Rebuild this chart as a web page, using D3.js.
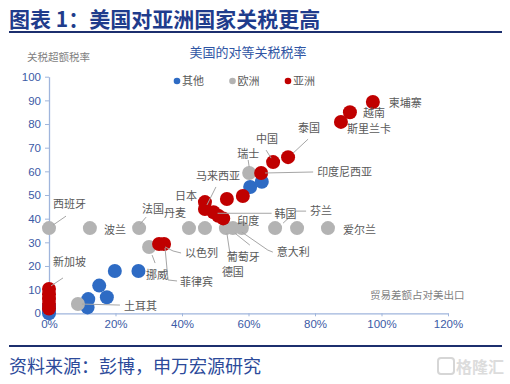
<!DOCTYPE html>
<html>
<head>
<meta charset="utf-8">
<script src="https://cdn.jsdelivr.net/npm/d3@7"></script>
<style>
  body { margin: 0; background: #fff; }
  svg { display: block; }
</style>
</head>
<body>
<svg id="chart" width="510" height="384"></svg>
<script>
// series names and colours
const seriesNames = ['其他', '欧洲', '亚洲']
const seriesColors = ['#2e6bc4', '#b3b3b3', '#c00000']

// x: 贸易差额占对美出口 (%), y: 关税超额税率
const otherPts = [
  {name: '', x: 60.5, y: 53.4}, {name: '', x: 64.0, y: 55.6},
  {name: '', x: 19.8, y: 17.9}, {name: '', x: 26.9, y: 17.9},
  {name: '', x: 15.1, y: 11.7}, {name: '', x: 17.4, y: 6.8},
  {name: '', x: 11.8, y: 6.0}, {name: '', x: 11.6, y: 2.5},
  {name: '', x: 0, y: 0}, {name: '', x: 0, y: 1.5}, {name: '', x: 0, y: 3}
]
const europePts = [
  {name: '瑞士', x: 60.2, y: 59.3}, {name: '挪威', x: 30.1, y: 28.0},
  {name: '土耳其', x: 8.7, y: 3.9}, {name: '西班牙', x: 0, y: 36},
  {name: '波兰', x: 12.3, y: 36}, {name: '法国', x: 27.1, y: 36},
  {name: '丹麦', x: 42.1, y: 36}, {name: '', x: 46.9, y: 36},
  {name: '德国', x: 53.2, y: 36}, {name: '葡萄牙', x: 55.3, y: 36},
  {name: '意大利', x: 58.0, y: 36}, {name: '芬兰', x: 68.0, y: 36},
  {name: '', x: 74.6, y: 36}, {name: '爱尔兰', x: 83.9, y: 36}
]
const asiaPts = [
  {name: '柬埔寨', x: 97.4, y: 89.3}, {name: '越南', x: 90.5, y: 85.0},
  {name: '斯里兰卡', x: 87.8, y: 80.9}, {name: '泰国', x: 71.9, y: 66.0},
  {name: '中国', x: 67.4, y: 63.9}, {name: '印度尼西亚', x: 63.8, y: 59.3},
  {name: '', x: 58.3, y: 49.6}, {name: '', x: 53.5, y: 48.3},
  {name: '日本', x: 46.9, y: 47.0}, {name: '马来西亚', x: 46.9, y: 44.1},
  {name: '韩国', x: 49.5, y: 42.7}, {name: '', x: 50.9, y: 41.2},
  {name: '印度', x: 52.4, y: 40.1}, {name: '以色列', x: 33.1, y: 29.3},
  {name: '菲律宾', x: 34.6, y: 29.3}, {name: '新加坡', x: 0, y: 10.3},
  {name: '', x: 0, y: 8}, {name: '', x: 0, y: 6}, {name: '', x: 0, y: 4}, {name: '', x: 0, y: 2}
]

const yTicks = [0, 10, 20, 30, 40, 50, 60, 70, 80, 90, 100]
const xTicks = [0, 20, 40, 60, 80, 100, 120]

// label placement: text offset from point (px), anchor, leader polyline offsets
const labelLayout = {
  '柬埔寨': {dx: 16, dy: 1},
  '越南': {dx: 13, dy: 1},
  '斯里兰卡': {dx: 6, dy: 7},
  '泰国': {dx: 10, dy: -29, lead: [[5, -4], [20, -18]]},
  '中国': {dx: -17, dy: -23, lead: [[-7, -12], [-2, -4]]},
  '瑞士': {dx: -12, dy: -19, lead: [[-1, -13], [0, -6]]},
  '印度尼西亚': {dx: 56, dy: -1, lead: [[4, 0], [52, -1]]},
  '马来西亚': {dx: -9, dy: -33, lead: [[11, -22], [2, -4]]},
  '日本': {dx: -8, dy: -6, anchor: 'end'},
  '法国': {dx: 3, dy: -19, lead: [[7, -11], [1, -4]]},
  '丹麦': {dx: -25, dy: -15},
  '西班牙': {dx: 4, dy: -24, lead: [[17, -12], [4, -3]]},
  '波兰': {dx: 14, dy: 2},
  '以色列': {dx: 26, dy: 9, lead: [[6, 3], [14, 7], [22, 9]]},
  '挪威': {dx: -3, dy: 28, lead: [[3, 8], [6, 16]]},
  '菲律宾': {dx: 16, dy: 38, lead: [[1, 4], [4, 36], [13, 37]]},
  '新加坡': {dx: 4, dy: -27, lead: [[2, -3], [14, -11]]},
  '土耳其': {dx: 46, dy: 2, lead: [[4, 0], [42, 1]]},
  '印度': {dx: 14, dy: 3},
  '韩国': {dx: 61, dy: 2, lead: [[4, 1], [58, 1]]},
  '芬兰': {dx: 35, dy: -17, lead: [[8, -5], [21, -17], [31, -17]]},
  '爱尔兰': {dx: 15, dy: 2},
  '德国': {dx: -4, dy: 44, lead: [[1, 5], [4, 25]]},
  '葡萄牙': {dx: -6, dy: 29, lead: [[2, 5], [17, 17]]},
  '意大利': {dx: 35, dy: 24, lead: [[0, 4], [26, 22], [31, 24]]}
}

const cjk = '"Noto Sans CJK SC", "Noto Sans", sans-serif'
const svg = d3.select('#chart')

// header
svg.append('text')
    .attr('x', 9).attr('y', 27)
    .attr('font-family', cjk).attr('font-weight', 'bold').attr('font-size', 21)
    .attr('fill', '#1f3c8c')
    .text('图表 1：美国对亚洲国家关税更高')
svg.append('line')
    .attr('x1', 9).attr('x2', 502).attr('y1', 32).attr('y2', 32)
    .attr('stroke', '#1c2f6e').attr('stroke-width', 2.2)

// footer
svg.append('line')
    .attr('x1', 9).attr('x2', 502).attr('y1', 346).attr('y2', 346)
    .attr('stroke', '#1c2f6e').attr('stroke-width', 2)
svg.append('text')
    .attr('x', 9).attr('y', 373)
    .attr('font-family', cjk).attr('font-size', 18)
    .attr('fill', '#2c4a9a')
    .text('资料来源：彭博，申万宏源研究')
// watermark
svg.append('rect')
    .attr('x', 438).attr('y', 358).attr('width', 16).attr('height', 16).attr('rx', 3)
    .attr('fill', 'none').attr('stroke', '#d6d6d6').attr('stroke-width', 2)
svg.append('text')
    .attr('x', 456).attr('y', 373)
    .attr('font-family', cjk).attr('font-size', 16).attr('font-weight', 'bold')
    .attr('fill', '#dcdcdc')
    .text('格隆汇')

const x = d3.scaleLinear().domain([0, 120]).range([49, 448])
const y = d3.scaleLinear().domain([0, 100]).range([313.3, 76.7])

// titles
svg.append('text')
    .attr('x', 248).attr('y', 57).attr('text-anchor', 'middle')
    .attr('font-family', cjk).attr('font-size', 13).attr('fill', '#2f55a4')
    .text('美国的对等关税税率')
svg.append('text')
    .attr('x', 27).attr('y', 61)
    .attr('font-family', cjk).attr('font-size', 10.5).attr('fill', '#7f7f7f')
    .text('关税超额税率')
svg.append('text')
    .attr('x', 370).attr('y', 299)
    .attr('font-family', cjk).attr('font-size', 10.5).attr('fill', '#7f7f7f')
    .text('贸易差额占对美出口')

// axes
const axisColor = '#9fb5dc'
const yAxis = svg.append('g')
    .attr('transform', `translate(${x(0)},0)`)
    .call(d3.axisLeft(y).tickValues(yTicks).tickSize(4).tickSizeOuter(0).tickPadding(4))
const xAxis = svg.append('g')
    .attr('transform', `translate(0,${y(0)})`)
    .call(d3.axisBottom(x).tickValues(xTicks).tickFormat(d => d + '%').tickSize(3).tickSizeOuter(0).tickPadding(4))
for (const g of [yAxis, xAxis]) {
  g.select('.domain').attr('stroke', axisColor).attr('stroke-width', 1.3)
  g.selectAll('.tick line').attr('stroke', axisColor)
  g.selectAll('.tick text')
      .attr('font-family', '"Liberation Sans", Arial, sans-serif')
      .attr('font-size', 11.5).attr('fill', '#3b5ba6')
}

// legend
const legend = svg.append('g')
    .selectAll('g')
    .data(seriesNames)
    .join('g')
      .attr('transform', (d, i) => `translate(${177 + i * 55.5},81)`)
legend.append('circle')
    .attr('r', 3.3)
    .attr('fill', (d, i) => seriesColors[i])
legend.append('text')
    .attr('x', 5).attr('dy', '0.36em')
    .attr('font-family', cjk).attr('font-size', 11).attr('fill', '#595959')
    .text(d => d)

// points, drawn in series order (blue, grey, red on top)
const allSeries = [otherPts, europePts, asiaPts]
allSeries.forEach((pts, i) => {
  svg.append('g')
    .selectAll('circle')
    .data(pts)
    .join('circle')
      .attr('cx', d => x(d.x))
      .attr('cy', d => y(d.y))
      .attr('r', 7)
      .attr('fill', seriesColors[i])
})

// data labels + leader lines
const labelled = allSeries.flat().filter(d => d.name && labelLayout[d.name])
const labels = svg.append('g')
labels.selectAll('path')
    .data(labelled.filter(d => labelLayout[d.name].lead))
    .join('path')
      .attr('fill', 'none')
      .attr('stroke', '#a6a6a6')
      .attr('stroke-width', 1)
      .attr('d', d => d3.line()(labelLayout[d.name].lead.map(([a, b]) => [x(d.x) + a, y(d.y) + b])))
labels.selectAll('text')
    .data(labelled)
    .join('text')
      .attr('x', d => x(d.x) + labelLayout[d.name].dx)
      .attr('y', d => y(d.y) + labelLayout[d.name].dy)
      .attr('dy', '0.35em')
      .attr('text-anchor', d => labelLayout[d.name].anchor || 'start')
      .attr('font-family', cjk).attr('font-size', 11).attr('fill', '#595959')
      .text(d => d.name)
</script>
</body>
</html>
